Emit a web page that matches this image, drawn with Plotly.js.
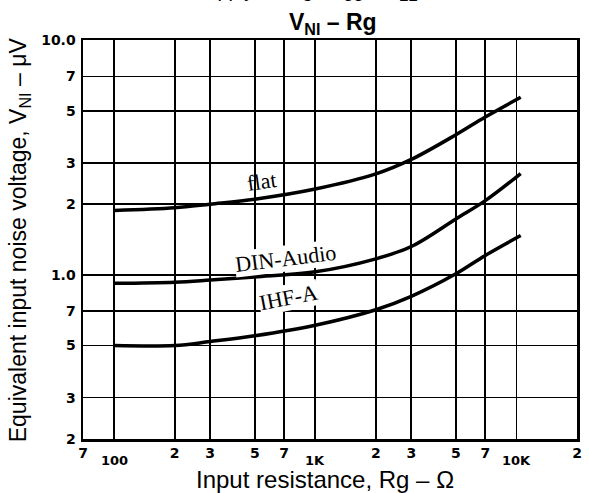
<!DOCTYPE html>
<html>
<head>
<meta charset="utf-8">
<script src="https://cdn.plot.ly/plotly-3.0.1.min.js"></script>
<style>html,body{margin:0;padding:0;background:#fff;}#chart{width:589px;height:493px;}</style>
</head>
<body>
<div id="chart"></div>
<script>
// Data
const rg = [100, 200, 300, 500, 1000, 2000, 3000, 5000, 7000, 10500];
const flat = [1.88, 1.93, 2.0, 2.1, 2.32, 2.69, 3.1, 3.95, 4.7, 5.7];
const dinAudio = [0.92, 0.93, 0.95, 0.98, 1.03, 1.17, 1.32, 1.73, 2.07, 2.7];
const ihfA = [0.5, 0.5, 0.52, 0.55, 0.61, 0.71, 0.81, 1.01, 1.21, 1.47];

const xTickVals = [70, 100, 200, 300, 500, 700, 1000, 2000, 3000, 5000, 7000, 10000, 20000];
const xTickText = ['7', '', '2', '3', '5', '7', '', '2', '3', '5', '7', '', '2'];
const xDecadeVals = [100, 1000, 10000];
const xDecadeText = ['100', '1K', '10K'];
const yTickVals = [0.2, 0.3, 0.5, 0.7, 1, 2, 3, 5, 7, 10];
const yTickText = ['2', '3', '5', '7', '1.0', '2', '3', '5', '7', '10.0'];

const seriesNames = ['flat', 'DIN-Audio', 'IHF-A'];
const seriesValues = [flat, dinAudio, ihfA];

const traces = seriesValues.map((v, i) => ({
  x: rg, y: v, name: seriesNames[i], type: 'scatter', mode: 'lines',
  line: {color: '#000', width: 3.5, shape: 'spline', smoothing: 1},
  hoverinfo: 'skip'
}));

const tickFont = {family: 'DejaVu Sans, Arial, sans-serif', size: 14, color: '#000', weight: 'bold'};
const decadeFont = {family: 'DejaVu Sans, Arial, sans-serif', size: 13, color: '#000', weight: 'bold'};
const labelFont = {family: 'Liberation Serif, DejaVu Serif, serif', size: 22, color: '#000'};
const titleFont = {family: 'Liberation Sans, Arial, sans-serif', size: 24, color: '#000'};

const decadeAnns = xDecadeVals.map((v, i) => ({
  text: xDecadeText[i], xref: 'x', yref: 'paper', x: Math.log10(v), y: -0.055,
  xanchor: 'center', yanchor: 'middle', showarrow: false, font: decadeFont
}));

const layout = {
  width: 589, height: 493,
  margin: {l: 83, r: 12, t: 40, b: 54, pad: 0},
  paper_bgcolor: '#fff', plot_bgcolor: '#fff',
  showlegend: false,
  title: {
    text: 'V<sub>NI</sub> – Rg',
    font: {family: 'Liberation Sans, Arial, sans-serif', size: 23, color: '#000', weight: 'bold'},
    x: 0.565, xanchor: 'center', y: 0.955, yanchor: 'middle'
  },
  xaxis: {
    type: 'log',
    range: [Math.log10(70), Math.log10(20000)],
    tickmode: 'array', tickvals: xTickVals, ticktext: xTickText,
    ticks: '', tickfont: tickFont,
    showgrid: true, gridcolor: '#000', gridwidth: 1.6,
    showline: true, linecolor: '#000', linewidth: 2.5, mirror: true,
    zeroline: false
  },
  yaxis: {
    type: 'log',
    range: [Math.log10(0.2), 1],
    tickmode: 'array', tickvals: yTickVals, ticktext: yTickText,
    ticks: '', tickfont: tickFont, ticklabelstandoff: 2,
    showgrid: true, gridcolor: '#000', gridwidth: 1.6,
    showline: true, linecolor: '#000', linewidth: 2.5, mirror: true,
    zeroline: false
  },
  annotations: [
    {text: 'Supply voltage V<sub>CC</sub> – V<sub>EE</sub>', xref: 'paper', yref: 'paper', x: 0.45, y: 1.085, xanchor: 'center', yanchor: 'bottom', showarrow: false,
     font: {family: 'Liberation Sans, Arial, sans-serif', size: 20, color: '#000'}},
    {text: 'Input resistance, Rg – Ω', xref: 'paper', yref: 'paper', x: 0.49, y: -0.102, xanchor: 'center', yanchor: 'middle', showarrow: false, font: titleFont},
    {text: 'Equivalent input noise voltage, V<sub>NI</sub> – μV', xref: 'paper', yref: 'paper', x: -0.128, y: 0.5, xanchor: 'center', yanchor: 'middle', textangle: -90, showarrow: false,
     font: {family: 'Liberation Sans, Arial, sans-serif', size: 23, color: '#000'}},
    {text: seriesNames[0], xref: 'paper', yref: 'paper', x: 0.362, y: 0.645, showarrow: false, textangle: -8, font: labelFont},
    {text: seriesNames[1], xref: 'paper', yref: 'paper', x: 0.409, y: 0.452, showarrow: false, textangle: -7, font: labelFont, bgcolor: '#fff', borderpad: 0},
    {text: seriesNames[2], xref: 'paper', yref: 'paper', x: 0.415, y: 0.308, showarrow: false, textangle: -11, font: labelFont, bgcolor: '#fff', borderpad: 0}
  ].concat(decadeAnns)
};

Plotly.newPlot('chart', traces, layout, {staticPlot: true, displayModeBar: false});
</script>
</body>
</html>
